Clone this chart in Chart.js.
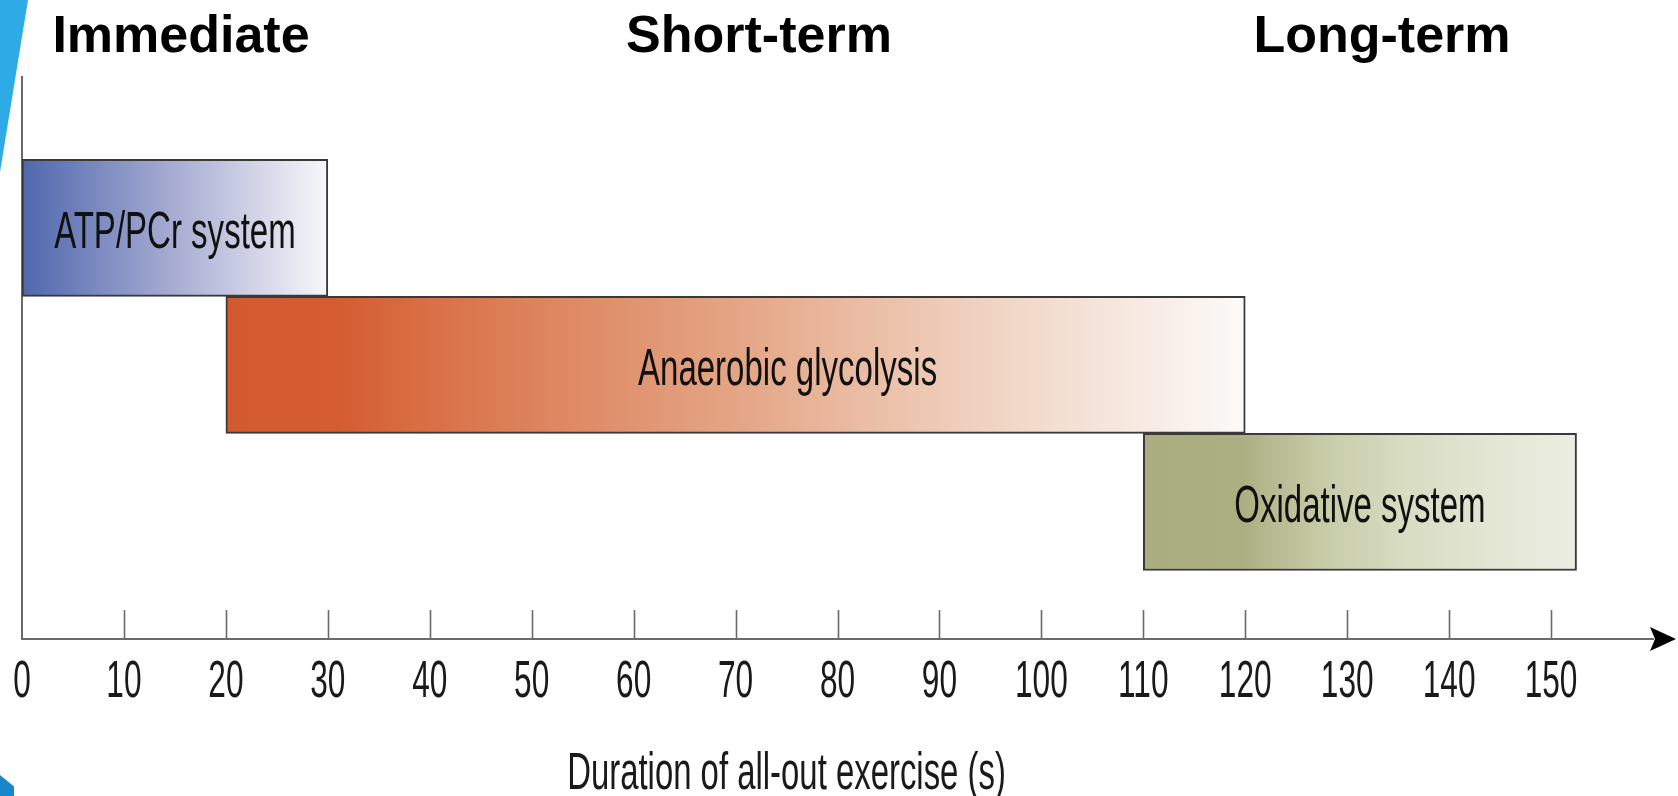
<!DOCTYPE html>
<html>
<head>
<meta charset="utf-8">
<script src="https://cdn.jsdelivr.net/npm/chart.js@4.4.1/dist/chart.umd.min.js"></script>
<style>
  html, body { margin: 0; padding: 0; background: #fff; }
  #wrap { position: relative; width: 1678px; height: 796px; overflow: hidden; }
  #chart { position: absolute; left: 0; top: 0; }
  .phase {
    position: absolute; top: 8px; font: bold 52px "Liberation Sans", Arial, sans-serif;
    line-height: 52px; color: #000; transform: translateX(-50%); white-space: nowrap;
  }
  .deco-top { position: absolute; left: 0; top: 0; width: 28px; height: 172px; background: #2eaae6;
    clip-path: polygon(0 0, 100% 0, 0 100%); }
  .deco-bottom { position: absolute; left: 0; top: 775px; width: 14px; height: 21px; background: #1886c8;
    clip-path: polygon(0 0, 100% 55%, 100% 100%, 0 100%); }
</style>
</head>
<body>
<div id="wrap">
  <canvas id="chart" width="1678" height="796"></canvas>
  <div class="deco-top"></div>
  <div class="deco-bottom"></div>
  <div class="phase" id="phase0" style="left:181px"></div>
  <div class="phase" id="phase1" style="left:759px"></div>
  <div class="phase" id="phase2" style="left:1382px"></div>
</div>
<script>
// energy systems and how long each one lasts (seconds)
const systems = ['ATP/PCr system', 'Anaerobic glycolysis', 'Oxidative system'];
const startSec = [0, 20, 110];
const endSec = [30, 120, 152.5];
const rowPos = [1, 2, 3];
const phases = ['Immediate', 'Short-term', 'Long-term'];
const tickValues = [0, 10, 20, 30, 40, 50, 60, 70, 80, 90, 100, 110, 120, 130, 140, 150];
const axisTitle = 'Duration of all-out exercise (s)';

// gradient stops per bar (left -> right)
const barStops = [
    [[0, '#4f67ae'], [0.5, '#a8add2'], [1, '#f7f7fa']],
    [[0, '#d35a2e'], [0.11, '#d55d31'], [0.3, '#dd835c'], [0.5, '#e4a585'], [0.75, '#f0d4c3'], [1, '#fcfaf8']],
    [[0, '#a9ad80'], [0.23, '#abb083'], [0.4, '#c5caa5'], [0.6, '#d8dcc2'], [0.8, '#e3e6d3'], [1, '#ecede3']]
];
const labelShift = [0, 52, 0];

phases.forEach((p, i) => {
    document.getElementById('phase' + i).textContent = p;
});

const sans = '"Liberation Sans", Arial, sans-serif';

function barFill(context) {
    const chart = context.chart;
    if (!chart.chartArea) {
        return '#cccccc';
    }
    const i = context.dataIndex;
    const xs = chart.scales.x;
    const x0 = xs.getPixelForValue(startSec[i]);
    const x1 = xs.getPixelForValue(endSec[i]);
    const g = chart.ctx.createLinearGradient(x0, 0, x1, 0);
    barStops[i].forEach(s => g.addColorStop(s[0], s[1]));
    return g;
}

// narrow (condensed) text like the original figure
function narrowText(ctx, text, x, y, size, sx) {
    ctx.save();
    ctx.font = size + 'px ' + sans;
    ctx.translate(x, y);
    ctx.scale(sx, 1);
    ctx.fillText(text, 0, 0);
    ctx.restore();
}

// ticks pointing up from the axis, tick labels, arrow head, text inside the bars
const decorPlugin = {
    id: 'decor',
    afterDatasetsDraw(chart) {
        const ctx = chart.ctx;
        const meta = chart.getDatasetMeta(0);
        ctx.save();
        ctx.fillStyle = '#111';
        ctx.textAlign = 'center';
        ctx.textBaseline = 'alphabetic';
        meta.data.forEach((bar, i) => {
            const cx = (bar.x + bar.base) / 2 + labelShift[i];
            narrowText(ctx, systems[i], cx, bar.y + 20, 52, 0.635);
        });
        ctx.restore();
    },
    afterDraw(chart) {
        const ctx = chart.ctx;
        const xs = chart.scales.x;
        const yBase = chart.chartArea.bottom;
        ctx.save();
        ctx.strokeStyle = '#6a6a6a';
        ctx.lineWidth = 1.6;
        xs.ticks.forEach(t => {
            if (t.value === 0) return;
            const px = Math.round(xs.getPixelForValue(t.value)) + 0.5;
            ctx.beginPath();
            ctx.moveTo(px, yBase);
            ctx.lineTo(px, yBase - 29);
            ctx.stroke();
        });

        ctx.fillStyle = '#1a1a1a';
        ctx.textAlign = 'center';
        ctx.textBaseline = 'alphabetic';
        xs.ticks.forEach(t => {
            narrowText(ctx, String(t.value), xs.getPixelForValue(t.value), yBase + 58, 51, 0.62);
        });
        const mid = (tickValues[0] + tickValues[tickValues.length - 1]) / 2;
        narrowText(ctx, axisTitle, xs.getPixelForValue(mid), yBase + 150, 51, 0.645);

        const xr = chart.chartArea.right;
        ctx.fillStyle = '#000';
        ctx.beginPath();
        ctx.moveTo(xr - 3, yBase - 12);
        ctx.lineTo(xr + 23, yBase);
        ctx.lineTo(xr - 3, yBase + 12);
        ctx.lineTo(xr + 2, yBase);
        ctx.closePath();
        ctx.fill();
        ctx.restore();
    }
};

new Chart(document.getElementById('chart'), {
    type: 'bar',
    data: {
        datasets: [{
            data: systems.map((s, i) => ({ x: [startSec[i], endSec[i]], y: rowPos[i] })),
            backgroundColor: barFill,
            borderColor: '#3a3a3a',
            borderWidth: 2,
            borderSkipped: false,
            categoryPercentage: 1,
            barPercentage: 1
        }]
    },
    options: {
        indexAxis: 'y',
        responsive: false,
        animation: false,
        layout: { padding: { top: 77, left: 22, right: 25, bottom: 0 } },
        plugins: {
            legend: { display: false },
            tooltip: { enabled: false }
        },
        scales: {
            x: {
                type: 'linear',
                position: 'bottom',
                min: 0,
                max: 160,
                afterBuildTicks: (scale) => {
                    scale.ticks = tickValues.map(v => ({ value: v }));
                },
                afterFit: (scale) => {
                    scale.height = 157;
                },
                grid: { display: false, drawTicks: false },
                border: { display: true, color: '#6a6a6a', width: 2 },
                ticks: { display: false },
                title: { display: false, text: axisTitle }
            },
            y: {
                type: 'linear',
                reverse: true,
                offset: false,
                min: -0.1,
                max: 4,
                afterBuildTicks: (scale) => {
                    scale.ticks = rowPos.map(v => ({ value: v }));
                },
                afterFit: (scale) => {
                    scale.width = 0;
                },
                grid: { display: false, drawTicks: false, offset: false },
                border: { display: true, color: '#6a6a6a', width: 2 },
                ticks: { display: false }
            }
        }
    },
    plugins: [decorPlugin]
});
</script>
</body>
</html>
